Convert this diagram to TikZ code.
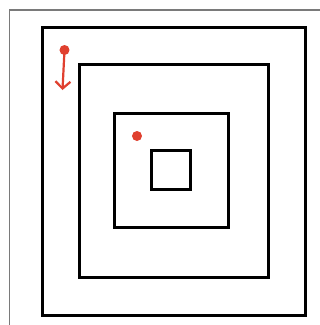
\documentclass[tikz,border=0pt]{standalone}
\usetikzlibrary{arrows.meta}
\definecolor{dotred}{HTML}{E0402F}
\definecolor{framegray}{HTML}{7A7A7A}
\begin{document}
\begin{tikzpicture}[x=1pt,y=-1pt,
  sq/.style={draw=black,line width=3pt,inner sep=0pt,rectangle},
  reddot/.style={circle,fill=dotred,inner sep=0pt,minimum size=10pt},
  redarrow/.style={draw=dotred,line width=2.2pt,-{Straight Barb[length=7pt,width=15pt,line width=2.2pt]}}]
\useasboundingbox (0,0) rectangle (320,325);
\fill[white] (0,0) rectangle (320,325);
\coordinate (fa) at (9.5,325);
\coordinate (fb) at (9.5,10);
\coordinate (fc) at (320,10);
\draw[framegray,line width=1.4pt] (fa) -- (fb) -- (fc);
\node[sq,minimum width=263pt,minimum height=288pt] (s1) at (174.5,171) {};
\node[sq,minimum width=189pt,minimum height=213pt] (s2) at (174.5,170.5) {};
\node[sq,minimum width=114pt,minimum height=114pt] (s3) at (172,170) {};
\node[sq,minimum width=39pt,minimum height=39pt] (s4) at (171.5,169.5) {};
\node[reddot] (d1) at (64.5,50) {};
\node[reddot] (d2) at (137,136) {};
\coordinate (tip) at (62.5,90);
\draw[redarrow] (d1.center) -- (tip);
\end{tikzpicture}
\end{document}
